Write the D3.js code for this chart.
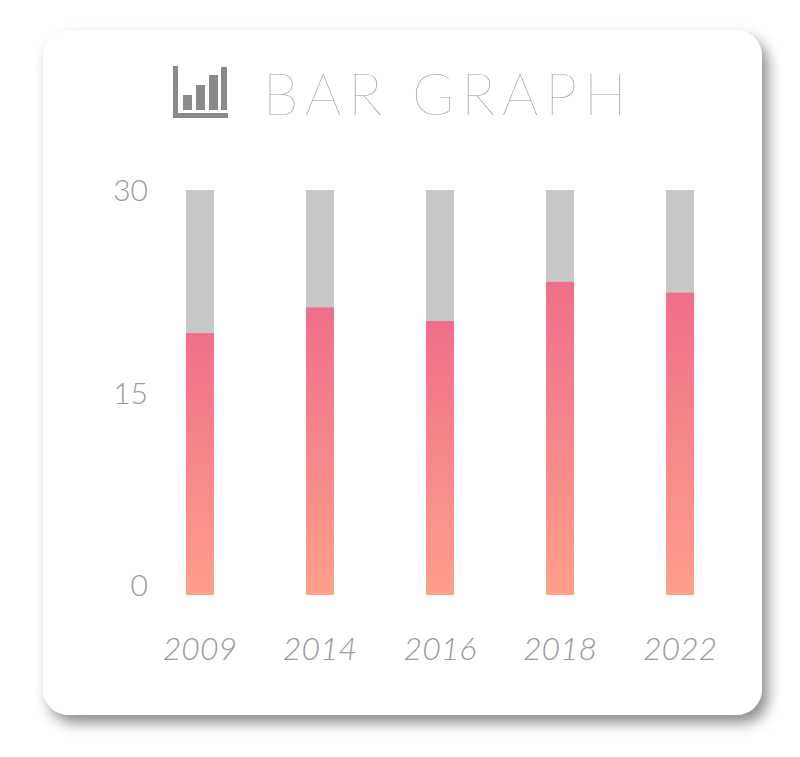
<!DOCTYPE html>
<html>
<head>
<meta charset="utf-8">
<script src="https://cdn.jsdelivr.net/npm/d3@7"></script>
<style>
  body { margin: 0; background: #fff; }
  svg { display: block; }
</style>
</head>
<body>
<script>
const years = ['2009', '2014', '2016', '2018', '2022'];
const values = [19.4, 21.3, 20.3, 23.2, 22.4];
const maxValue = 30;
const tickValues = [0, 15, 30];

const width = 800;
const height = 757;
const svg = d3.select('body').append('svg').attr('width', width).attr('height', height);

const defs = svg.append('defs');
const shadow = defs.append('filter').attr('id', 'shadow')
  .attr('x', '-10%').attr('y', '-10%').attr('width', '130%').attr('height', '130%');
shadow.append('feDropShadow').attr('dx', 6).attr('dy', 8).attr('stdDeviation', 7)
  .attr('flood-color', '#000').attr('flood-opacity', 0.45);

const grad = defs.append('linearGradient').attr('id', 'barGrad')
  .attr('x1', 0).attr('y1', 0).attr('x2', 0).attr('y2', 1);
grad.append('stop').attr('offset', '0%').attr('stop-color', '#f06e8a');
grad.append('stop').attr('offset', '100%').attr('stop-color', '#ffa08a');

// card
svg.append('rect')
  .attr('x', 43).attr('y', 30).attr('width', 719).attr('height', 685)
  .attr('rx', 26).attr('fill', '#fff').attr('filter', 'url(#shadow)');

// title icon
const icon = svg.append('g').attr('fill', '#8a8a8a');
icon.append('rect').attr('x', 173).attr('y', 66).attr('width', 5).attr('height', 52);
icon.append('rect').attr('x', 173).attr('y', 113).attr('width', 55).attr('height', 5);
icon.append('rect').attr('x', 183).attr('y', 95).attr('width', 9).attr('height', 15);
icon.append('rect').attr('x', 196).attr('y', 85).attr('width', 9).attr('height', 25);
icon.append('rect').attr('x', 209).attr('y', 75).attr('width', 9).attr('height', 35);
icon.append('rect').attr('x', 221).attr('y', 67).attr('width', 6).attr('height', 43);

svg.append('text')
  .attr('x', 263).attr('y', 115)
  .attr('font-family', 'Lato, "Open Sans", sans-serif')
  .attr('font-weight', 200)
  .attr('font-size', 57)
  .attr('letter-spacing', 7)
  .attr('fill', '#999')
  .text('BAR GRAPH');

const x = d3.scaleBand().domain(years).range([140, 740]).paddingInner(0.767).paddingOuter(0.383);
const y = d3.scaleLinear().domain([0, maxValue]).range([595, 190]);

// y axis labels
const yAxis = svg.append('g').attr('transform', 'translate(148,0)')
  .call(d3.axisLeft(y).tickValues(tickValues).tickSize(0).tickPadding(0));
yAxis.select('.domain').remove();
yAxis.selectAll('text')
  .attr('font-family', 'Lato, sans-serif').attr('font-weight', 300)
  .attr('font-size', 30).attr('fill', '#9a9a9a')
  .attr('dy', (d) => (d === 0 ? '-0.0em' : '0.35em'));

// background bars
svg.append('g').selectAll('rect').data(years).join('rect')
  .attr('x', (d) => x(d)).attr('width', x.bandwidth())
  .attr('y', y(maxValue)).attr('height', y(0) - y(maxValue))
  .attr('fill', '#c8c8c8');

// value bars
svg.append('g').selectAll('rect').data(values).join('rect')
  .attr('x', (d, i) => x(years[i])).attr('width', x.bandwidth())
  .attr('y', (d) => y(d)).attr('height', (d) => y(0) - y(d))
  .attr('fill', 'url(#barGrad)');

// x labels
svg.append('g').selectAll('text').data(years).join('text')
  .attr('x', (d) => x(d) + x.bandwidth() / 2)
  .attr('y', 660)
  .attr('text-anchor', 'middle')
  .attr('font-family', 'Lato, sans-serif').attr('font-weight', 300)
  .attr('font-style', 'italic')
  .attr('font-size', 32).attr('fill', '#9a9a9a')
  .text((d) => d);
</script>
</body>
</html>
